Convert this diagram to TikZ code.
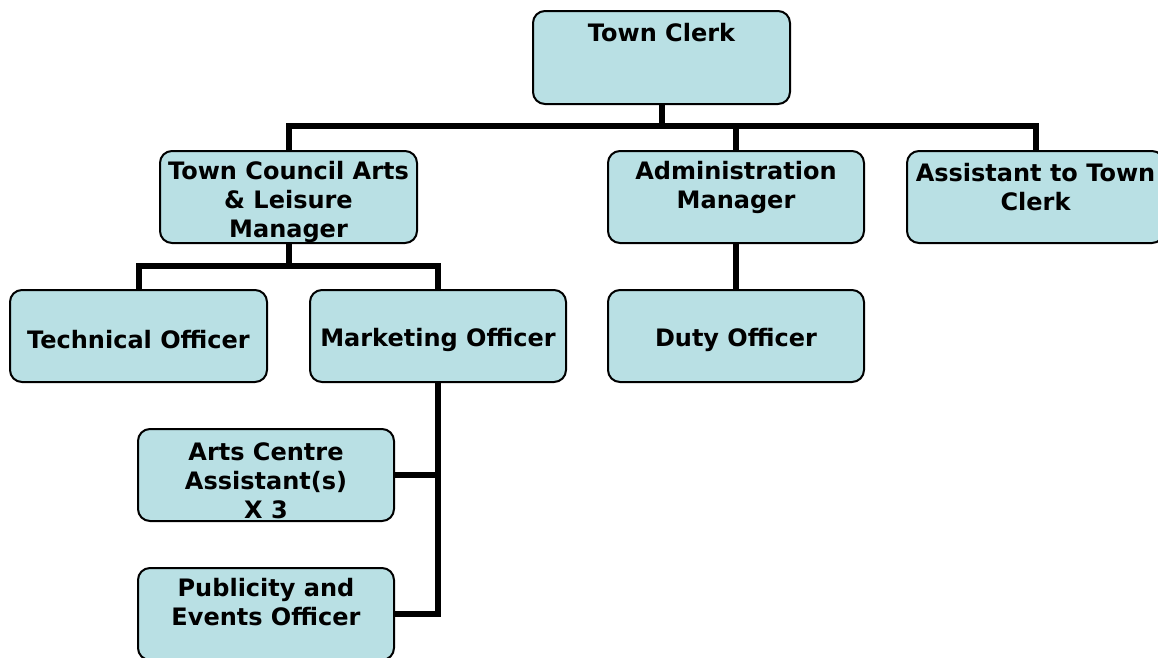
\documentclass[tikz,border=0pt]{standalone}
\usepackage{fontspec}
\setmainfont{DejaVu Sans}
\definecolor{boxfill}{RGB}{185,224,228}
\begin{document}
\begin{tikzpicture}[x=1pt,y=-1pt,
  box/.style={draw=black,line width=2pt,fill=boxfill,rounded corners=12pt,
    minimum width=257pt,minimum height=92pt,inner sep=0pt,anchor=north west},
  txt/.style={font=\fontsize{24}{29}\selectfont\bfseries,align=center,inner sep=0pt,anchor=center},
  conn/.style={line width=6pt,line join=miter,draw=black}]
\useasboundingbox (0,0) rectangle (1158,657);
% boxes
\node[box,minimum height=93pt] (tc) at (532,10) {};
\node[box] (arts) at (159,150) {};
\node[box,minimum width=256pt] (admin) at (607,150) {};
\node[box] (asst) at (906,150) {};
\node[box] (tech) at (9,289) {};
\node[box,minimum width=256pt] (mkt) at (309,289) {};
\node[box,minimum width=256pt] (duty) at (607,289) {};
\node[box,minimum width=256pt] (acc) at (137,428) {};
\node[box,minimum width=256pt] (pub) at (137,567) {};
% connector levels
\coordinate (b1) at (0,126);
\coordinate (b2) at (0,266);
\draw[conn] (tc.south) -- (tc.south |- b1);
\draw[conn] (arts.north) |- (asst.north |- b1) -- (asst.north);
\draw[conn] (admin.north) -- (admin.north |- b1);
\draw[conn] (arts.south) -- (arts.south |- b2);
\draw[conn] (tech.north) |- (mkt.north |- b2) -- (mkt.north);
\draw[conn] (admin.south) -- (duty.north);
\draw[conn] (mkt.south) |- (pub.east);
\draw[conn] (acc.east) -- (acc.east -| mkt.south);
% texts
\node[txt] (ttc) at (tc.north |- 0,33) {Town Clerk};
\begin{scope}
\clip[rounded corners=12pt] ([shift={(1pt,1pt)}]arts.south west) rectangle ([shift={(-1pt,-1pt)}]arts.north east);
\node[txt] (tarts) at (arts.north |- 0,202) {Town Council Arts\\\& Leisure\\Manager};
\end{scope}
\node[txt] (tadmin) at (admin.north |- 0,187.5) {Administration\\Manager};
\node[txt] (tasst) at (asst.north |- 0,187.5) {Assistant to Town\\Clerk};
\node[txt] (ttech) at (tech.north |- 0,340) {Technical Officer};
\node[txt] (tmkt) at (mkt.north |- 0,340) {Marketing Officer};
\node[txt] (tduty) at (duty.north |- 0,340) {Duty Officer};
\node[txt] (tacc) at (acc.north |- 0,480.5) {Arts Centre\\Assistant(s)\\X 3};
\node[txt] (tpub) at (pub.north |- 0,602.5) {Publicity and\\Events Officer};
\end{tikzpicture}
\end{document}
